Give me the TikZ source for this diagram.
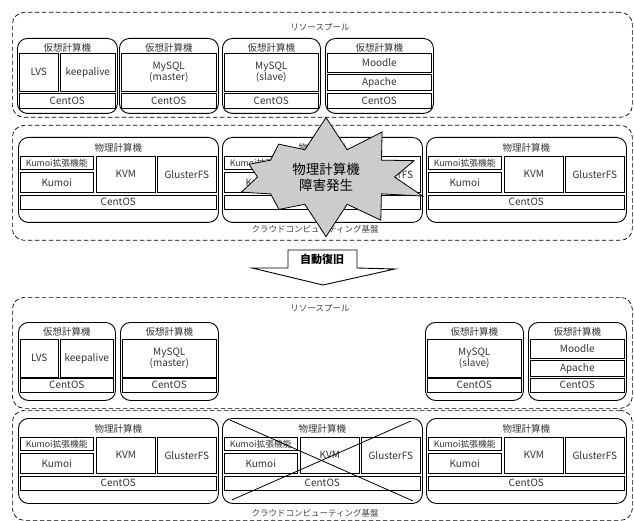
\documentclass[tikz,border=0pt]{standalone}
\usepackage{fontspec}
\setmainfont{Noto Sans CJK JP}
\usetikzlibrary{positioning, shapes.symbols}

\begin{document}
\begin{tikzpicture}[x=1pt, y=-1pt,
    pool/.style={draw, dash pattern=on 4.5pt off 2.5pt, line width=0.7pt,
      rounded corners=12pt, anchor=north west, inner sep=0pt},
    machine/.style={draw, line width=0.9pt, rounded corners=10pt,
      anchor=north west, inner sep=0pt},
    part/.style={draw, line width=0.6pt, anchor=north west, inner sep=0pt,
      align=center, text=black!80, font=\fontsize{10}{11}\selectfont},
    wh/.style 2 args={minimum width=#1pt, minimum height=#2pt},
    caption/.style={inner sep=1pt, text=black!75, font=\fontsize{8.5}{9}\selectfont},
    title/.style={inner sep=1pt, text=black!80, font=\fontsize{9.5}{10}\selectfont},
  ]
    \useasboundingbox (0,0) rectangle (634,521);

    \node[pool, wh={620}{105}] (pool1) at (12,12) {};
    \node[caption] (pool1t) at (320,27) {リソースプール};

    \node[machine, wh={100}{75}] (vmA1) at (17,38) {};
    \node[title, below=4pt of vmA1.north] (vmA1t) {仮想計算機};
    \node[part, wh={39}{38}] (lvsA) at (19,53) {LVS};
    \node[part, wh={55}{38}] (kaA) at (60,53) {keepalive};
    \node[part, wh={96}{15}] (osA1) at (19,93) {CentOS};

    \node[machine, wh={99}{75}] (vmA2) at (119,38) {};
    \node[title, below=4pt of vmA2.north] (vmA2t) {仮想計算機};
    \node[part, wh={95}{38}] (sqlA1) at (121,53) {MySQL\\(master)};
    \node[part, wh={95}{15}] (osA2) at (121,93) {CentOS};

    \node[machine, wh={98}{75}] (vmA3) at (222,38) {};
    \node[title, below=4pt of vmA3.north] (vmA3t) {仮想計算機};
    \node[part, wh={94}{38}] (sqlA2) at (224,53) {MySQL\\(slave)};
    \node[part, wh={94}{15}] (osA3) at (224,93) {CentOS};

    \node[machine, wh={108}{75}] (vmA4) at (325,38) {};
    \node[title, below=4pt of vmA4.north] (vmA4t) {仮想計算機};
    \node[part, wh={104}{19}] (mdlA) at (327,53) {Moodle};
    \node[part, wh={104}{16}] (apA) at (327,74) {Apache};
    \node[part, wh={104}{15}] (osA4) at (327,93) {CentOS};

    \node[pool, wh={620}{115}] (cloud1) at (12,125) {};
    \node[caption] (cloud1t) at (315,229) {クラウドコンピューティング基盤};

    \node[pool, wh={620}{111}] (pool2) at (12,297) {};
    \node[caption] (pool2t) at (320,308) {リソースプール};

    \node[machine, wh={97}{78}] (vmB1) at (18,322) {};
    \node[title, below=4pt of vmB1.north] (vmB1t) {仮想計算機};
    \node[part, wh={38}{38}] (lvsB) at (20,339) {LVS};
    \node[part, wh={53}{38}] (kaB) at (60,339) {keepalive};
    \node[part, wh={93}{14}] (osB1) at (20,378) {CentOS};

    \node[machine, wh={98}{78}] (vmB2) at (120,322) {};
    \node[title, below=4pt of vmB2.north] (vmB2t) {仮想計算機};
    \node[part, wh={94}{38}] (sqlB1) at (122,339) {MySQL\\(master)};
    \node[part, wh={94}{14}] (osB2) at (122,378) {CentOS};

    \node[machine, wh={98}{78}] (vmB3) at (425,322) {};
    \node[title, below=4pt of vmB3.north] (vmB3t) {仮想計算機};
    \node[part, wh={94}{38}] (sqlB2) at (427,339) {MySQL\\(slave)};
    \node[part, wh={94}{14}] (osB3) at (427,378) {CentOS};

    \node[machine, wh={98}{78}] (vmB4) at (528,322) {};
    \node[title, below=4pt of vmB4.north] (vmB4t) {仮想計算機};
    \node[part, wh={94}{19}] (mdlB) at (530,339) {Moodle};
    \node[part, wh={94}{16}] (apB) at (530,360) {Apache};
    \node[part, wh={94}{14}] (osB4) at (530,378) {CentOS};

    \node[pool, wh={620}{110}] (cloud2) at (12,410) {};
    \node[caption] (cloud2t) at (315,513) {クラウドコンピューティング基盤};

    \foreach \r/\y in {A/137, B/418} {
      \foreach \i/\x in {1/18, 2/222, 3/426} {
        \node[machine, wh={200}{85}] (pm\r\i) at (\x,\y) {};
        \node[title, below=5pt of pm\r\i.north] (pm\r\i t) {物理計算機};
        \node[part, wh={73}{13}, font=\fontsize{8.8}{9}\selectfont] (kx\r\i) at (\x+2,\y+19) {Kumoi拡張機能};
        \node[part, wh={73}{20}] (km\r\i) at (\x+2,\y+35) {Kumoi};
        \node[part, wh={59}{36}] (kvm\r\i) at (\x+78,\y+19) {KVM};
        \node[part, wh={59}{36}] (gfs\r\i) at (\x+139,\y+19) {GlusterFS};
        \node[part, wh={196}{14}] (os\r\i) at (\x+2,\y+58) {CentOS};
      }
    }

    \node[starburst, draw, fill=black!20, line width=0.8pt, random starburst=7,
      starburst points=10, starburst point height=34pt, inner sep=6pt,
      minimum width=205pt, minimum height=92pt, align=center,
      font=\fontsize{13.5}{16}\selectfont] (fault) at (326,177) {物理計算機\\障害発生};

    \draw[line width=0.9pt, fill=white] (288,268) -- (288,250) -- (357,250) -- (357,268)
      -- (395,269) -- (323,285) -- (252,268) -- cycle;
    \node[font=\bfseries\fontsize{11}{12}\selectfont] (recover) at (322,259) {自動復旧};

    \draw[line width=0.8pt] ([shift={(8,2)}]pmB2.north west) -- ([shift={(-10,-3)}]pmB2.south east);
    \draw[line width=0.8pt] ([shift={(10,-4)}]pmB2.south west) -- ([shift={(-12,3)}]pmB2.north east);
  \end{tikzpicture}
\end{document}
